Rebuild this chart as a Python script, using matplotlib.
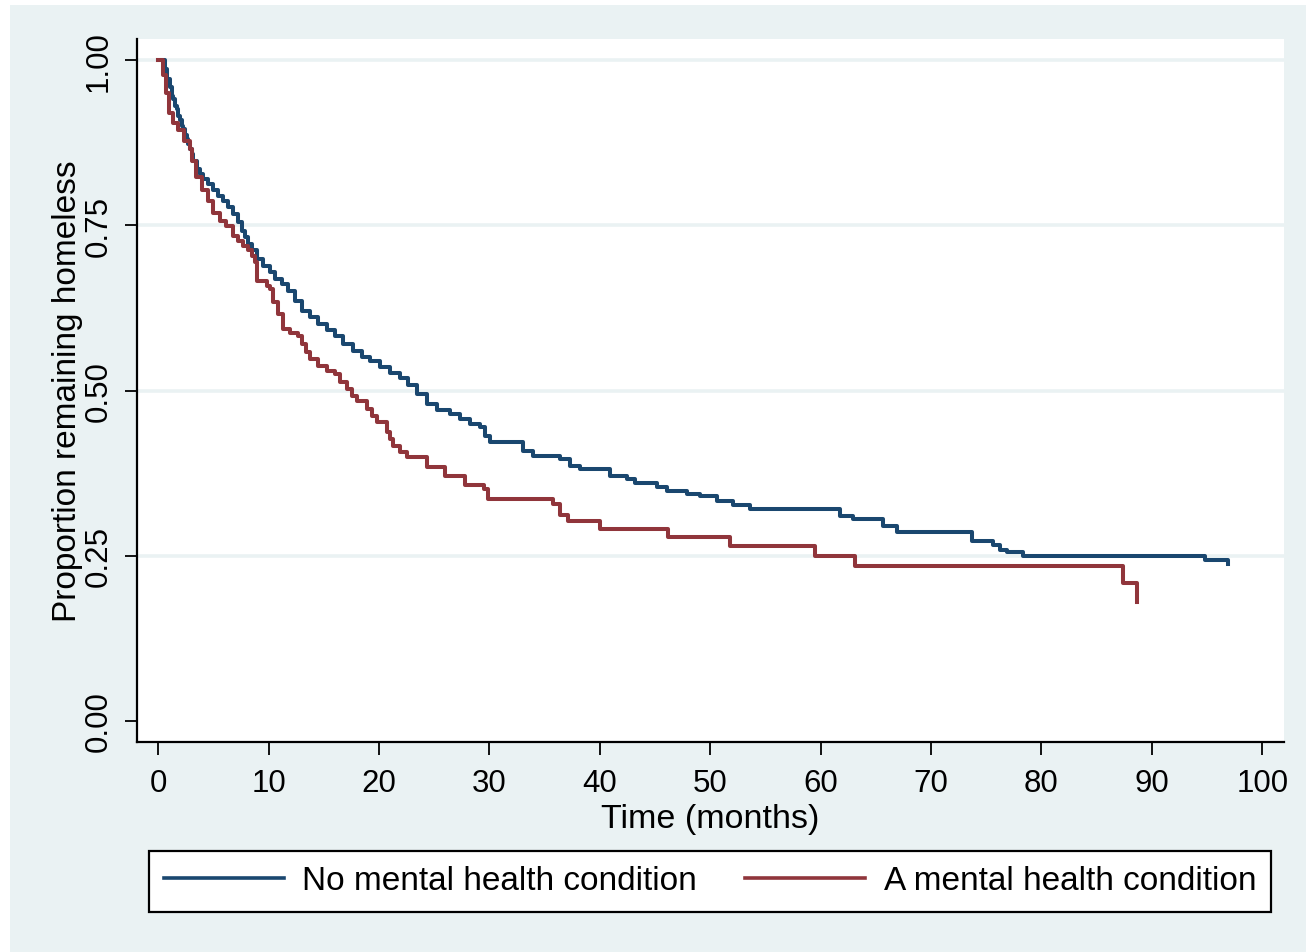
import matplotlib
matplotlib.use('Agg')
import matplotlib.pyplot as plt
from matplotlib.patches import Rectangle
from matplotlib.lines import Line2D

# Kaplan-Meier estimates (time in months, proportion remaining homeless)
no_mh_time = [0, 0.61, 0.76, 1.06, 1.21, 1.36, 1.51, 1.67, 1.81, 1.97, 2.12, 2.26, 2.42, 2.57, 2.72,
              2.87, 3.03, 3.17, 3.48, 3.78, 4.08, 4.53, 4.98, 5.43, 5.89, 6.34, 6.79, 7.25, 7.55,
              7.85, 8.15, 8.46, 8.91, 9.51, 10.12, 10.57, 11.18, 11.78, 12.38, 13.02, 13.74, 14.47,
              15.28, 16.01, 16.73, 17.64, 18.45, 19.18, 20.08, 20.99, 21.9, 22.62, 23.43, 24.34,
              25.24, 26.42, 27.33, 28.23, 29.14, 29.59, 30.04, 33.03, 33.94, 36.38, 37.29, 38.2,
              40.92, 42.45, 43.18, 45.17, 46.08, 47.89, 49.07, 50.61, 52.06, 53.6, 61.75, 62.92,
              65.64, 66.91, 73.7, 75.6, 76.24, 76.87, 78.32, 94.81, 96.9]
no_mh_surv = [1.0, 0.987, 0.972, 0.959, 0.946, 0.941, 0.931, 0.926, 0.916, 0.909, 0.901, 0.896, 0.886,
              0.881, 0.873, 0.866, 0.858, 0.848, 0.835, 0.828, 0.820, 0.813, 0.803, 0.795, 0.787,
              0.777, 0.767, 0.755, 0.742, 0.732, 0.722, 0.712, 0.699, 0.689, 0.679, 0.669, 0.661,
              0.651, 0.636, 0.621, 0.611, 0.601, 0.592, 0.582, 0.571, 0.560, 0.551, 0.544, 0.536,
              0.527, 0.519, 0.509, 0.495, 0.480, 0.471, 0.465, 0.457, 0.450, 0.445, 0.431, 0.422,
              0.409, 0.401, 0.397, 0.386, 0.381, 0.371, 0.366, 0.360, 0.354, 0.348, 0.344, 0.341,
              0.333, 0.327, 0.321, 0.310, 0.306, 0.295, 0.286, 0.272, 0.266, 0.259, 0.256, 0.250,
              0.244, 0.238]

mh_time = [0, 0.40, 0.70, 1.00, 1.36, 1.78, 2.33, 2.87, 3.03, 3.41, 3.93, 4.53, 4.98, 5.59, 6.13,
           6.79, 7.25, 7.67, 8.13, 8.49, 8.76, 8.91, 9.82, 10.12, 10.42, 10.84, 11.30, 11.93, 12.65,
           13.02, 13.38, 13.74, 14.47, 15.28, 16.01, 16.46, 17.09, 17.55, 18.0, 18.9, 19.36, 19.81,
           20.72, 20.99, 21.26, 21.9, 22.53, 24.34, 25.97, 27.78, 29.5, 29.86, 35.75, 36.38, 37.1,
           39.99, 46.15, 51.77, 59.47, 63.1, 87.39, 88.66]
mh_surv = [1.0, 0.977, 0.950, 0.920, 0.905, 0.894, 0.878, 0.866, 0.848, 0.823, 0.803, 0.787, 0.768,
           0.757, 0.749, 0.734, 0.727, 0.719, 0.712, 0.704, 0.695, 0.666, 0.658, 0.654, 0.634,
           0.616, 0.593, 0.587, 0.582, 0.570, 0.558, 0.548, 0.537, 0.530, 0.525, 0.513, 0.502,
           0.492, 0.484, 0.472, 0.462, 0.453, 0.437, 0.427, 0.416, 0.407, 0.400, 0.384, 0.371,
           0.357, 0.351, 0.336, 0.328, 0.312, 0.303, 0.291, 0.278, 0.265, 0.250, 0.235, 0.209,
           0.180]

x_ticks = [0, 10, 20, 30, 40, 50, 60, 70, 80, 90, 100]
y_ticks = [0.0, 0.25, 0.5, 0.75, 1.0]
y_tick_labels = ['0.00', '0.25', '0.50', '0.75', '1.00']
labels = ['No mental health condition', 'A mental health condition']

# Stata s2color colours
navy = '#1A476F'
maroon = '#90353B'
bg = '#EAF2F3'

plt.rcParams['font.family'] = ['Liberation Sans', 'DejaVu Sans']

W, H = 1306, 953
fig = plt.figure(figsize=(W / 100, H / 100), dpi=100)
fig.patch.set_facecolor('white')
# light bluish graph region
fig.patches.append(Rectangle((10 / W, 0), 1 - 10 / W, (H - 6) / H, transform=fig.transFigure,
                             facecolor=bg, edgecolor='none', zorder=-10))

ax = fig.add_axes([137 / W, (H - 743) / H, (1284 - 137) / W, (743 - 40) / H])
ax.set_facecolor('white')

# horizontal grid (not at zero)
for yv in y_ticks[1:]:
    ax.axhline(yv, color=bg, lw=2.6, zorder=1)

ax.plot(no_mh_time, no_mh_surv, drawstyle='steps-post', color=navy, lw=2.9, zorder=3)
ax.plot(mh_time, mh_surv, drawstyle='steps-post', color=maroon, lw=2.9, zorder=3)

ax.set_xlim(-1.93, 101.97)
ax.set_ylim(-0.032, 1.032)

for side in ['top', 'right']:
    ax.spines[side].set_visible(False)
for side in ['left', 'bottom']:
    ax.spines[side].set_linewidth(1.6)
    ax.spines[side].set_color('black')

ax.set_xticks(x_ticks)
ax.set_xticklabels([str(v) for v in x_ticks])
ax.set_yticks(y_ticks)
ax.set_yticklabels(y_tick_labels, rotation=90, va='center')
ax.tick_params(axis='x', length=9, width=1.3, labelsize=22.5, pad=10)
ax.tick_params(axis='y', length=9, width=1.3, labelsize=22.5, pad=8)

ax.set_xlabel('Time (months)', fontsize=24.5, labelpad=3)
ax.set_ylabel('Proportion remaining homeless', fontsize=24, labelpad=0)

# legend below the plot
handles = [Line2D([], [], color=navy, lw=2.6), Line2D([], [], color=maroon, lw=2.6)]
leg = fig.legend(handles, labels, ncol=2, loc='center', bbox_to_anchor=(710 / W, (H - 882) / H),
                 fontsize=24, handlelength=3.6, handletextpad=0.56, columnspacing=1.45,
                 borderpad=0.45, fancybox=False, framealpha=1, edgecolor='black')
leg.get_frame().set_linewidth(1.6)

fig.savefig('out.png', dpi=100)
